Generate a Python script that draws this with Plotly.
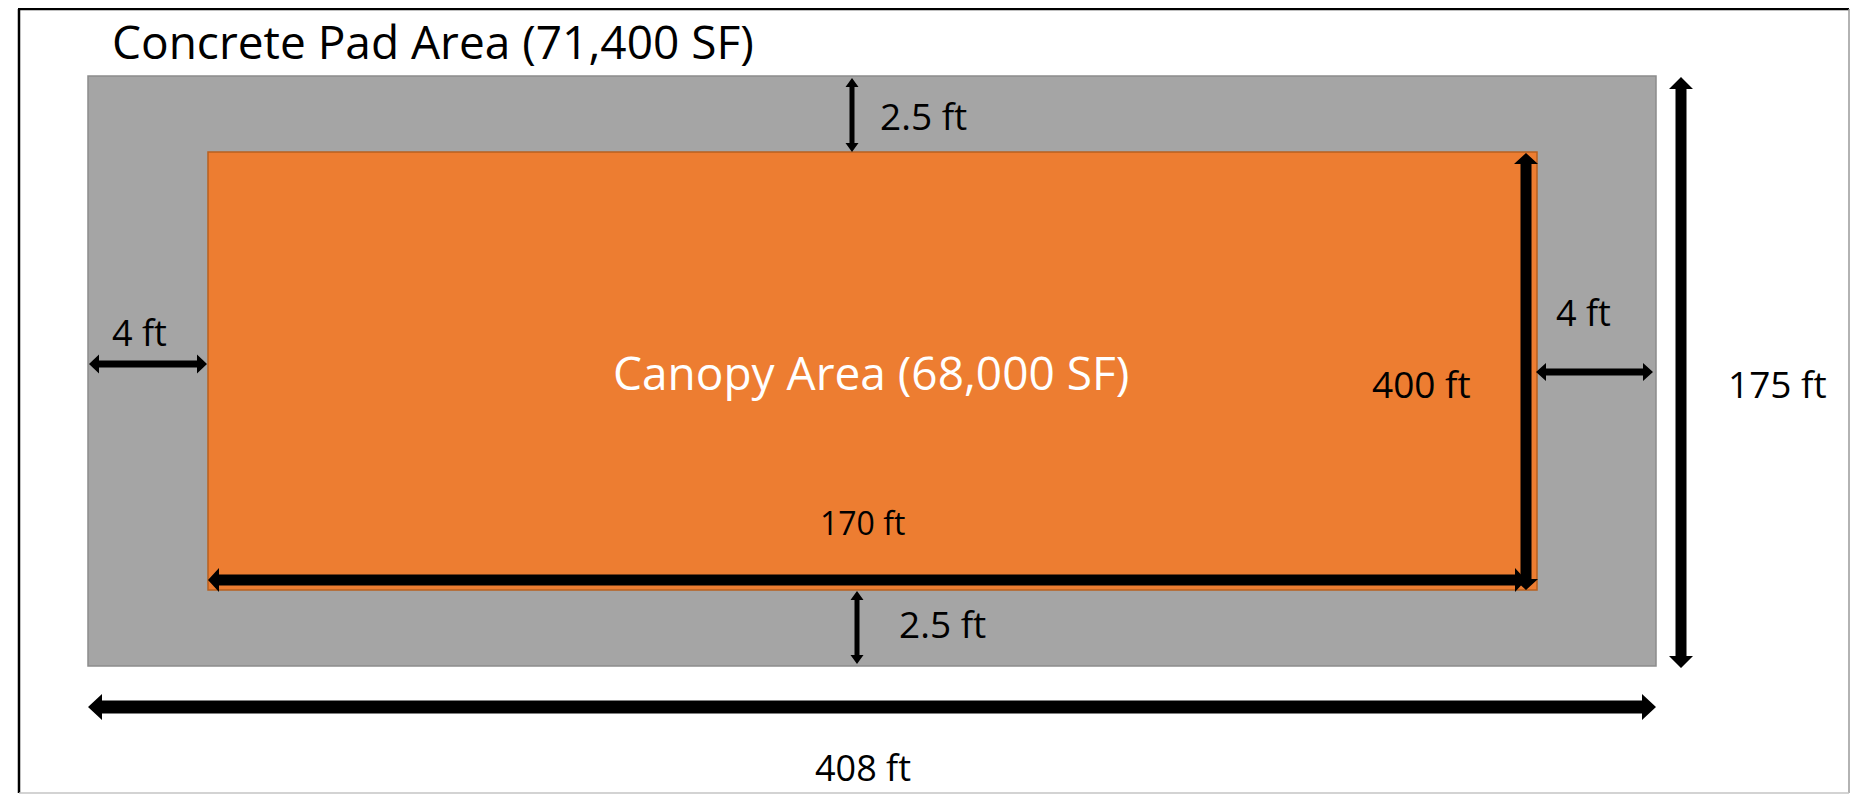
import plotly.graph_objects as go

# ---- data (feet) ----
pad_dims = [408, 175]          # concrete pad: length, width
canopy_dims = [400, 170]       # canopy: length, width
setbacks = [4, 2.5]            # side setback, end setback
unit = "ft"

pad_area = pad_dims[0] * pad_dims[1]
canopy_area = canopy_dims[0] * canopy_dims[1]

# ---- schematic layout (canvas px, not to scale) ----
W, H = 1863, 795
OFF = 8  # page body margin, so canvas units equal page pixels
pad_box = dict(x0=88, y0=76, x1=1656, y1=666)
canopy_box = dict(x0=208, y0=152, x1=1537, y1=590)

GRAY = "#A5A5A5"
ORANGE = "#ED7D31"
FONT = "Open Sans"

fig = go.Figure()
fig.add_trace(go.Scatter(x=[OFF, W], y=[OFF, H], mode="markers",
                         marker=dict(opacity=0), hoverinfo="skip", showlegend=False))

shapes = []
# outer frame
shapes.append(dict(type="line", x0=18, y0=9, x1=1849, y1=9, line=dict(color="black", width=2.5)))
shapes.append(dict(type="line", x0=19, y0=9, x1=19, y1=793, line=dict(color="black", width=2.5)))
shapes.append(dict(type="line", x0=1849, y0=9, x1=1849, y1=793, line=dict(color="#9a9a9a", width=1.5)))
shapes.append(dict(type="line", x0=19, y0=793, x1=1849, y1=793, line=dict(color="#c4c4c4", width=1.5)))

shapes.append(dict(type="rect", **pad_box, fillcolor=GRAY, line=dict(color="#8c8c8c", width=1.5), layer="below"))
shapes.append(dict(type="rect", **canopy_box, fillcolor=ORANGE, line=dict(color="#B8601F", width=1.5), layer="below"))


def arrow_path(x0, y0, x1, y1, sw, hw, hl):
    dx, dy = x1 - x0, y1 - y0
    L = (dx * dx + dy * dy) ** 0.5
    ux, uy = dx / L, dy / L
    nx, ny = -uy, ux
    b0 = (x0 + ux * hl, y0 + uy * hl)
    b1 = (x1 - ux * hl, y1 - uy * hl)
    pts = [
        (x0, y0),
        (b0[0] + nx * hw / 2, b0[1] + ny * hw / 2),
        (b0[0] + nx * sw / 2, b0[1] + ny * sw / 2),
        (b1[0] + nx * sw / 2, b1[1] + ny * sw / 2),
        (b1[0] + nx * hw / 2, b1[1] + ny * hw / 2),
        (x1, y1),
        (b1[0] - nx * hw / 2, b1[1] - ny * hw / 2),
        (b1[0] - nx * sw / 2, b1[1] - ny * sw / 2),
        (b0[0] - nx * sw / 2, b0[1] - ny * sw / 2),
        (b0[0] - nx * hw / 2, b0[1] - ny * hw / 2),
    ]
    return "M " + " L ".join(f"{px:.1f},{py:.1f}" for px, py in pts) + " Z"


arrows = [
    # x0, y0, x1, y1, shaft, head width, head length
    (852, 78, 852, 152, 5, 13, 9),      # top end setback
    (857, 591, 857, 664, 5, 13, 9),     # bottom end setback
    (89, 364, 207, 364, 7, 19, 10),     # left side setback
    (1536, 372, 1653, 372, 7, 18, 10),  # right side setback
    (1526, 153, 1526, 590, 11, 24, 11), # canopy length
    (208, 580, 1526, 580, 11, 24, 11),  # canopy width
    (1681, 77, 1681, 668, 11, 24, 12),  # pad width
    (88, 707, 1656, 707, 13, 26, 14),   # pad length
]
for a in arrows:
    shapes.append(dict(type="path", path=arrow_path(*a), fillcolor="black",
                       line=dict(width=0), layer="above"))


def fmt(v):
    return f"{v:g} {unit}"


labels = [
    # text, x, y, xanchor, size, color
    (f"Concrete Pad Area ({pad_area:,} SF)", 110, 41, "left", 46, "black"),
    (fmt(setbacks[1]), 878, 115, "left", 37, "black"),
    (fmt(setbacks[0]), 110, 332, "left", 36, "black"),
    (fmt(setbacks[0]), 1554, 312, "left", 36, "black"),
    (f"Canopy Area ({canopy_area:,} SF)", 871, 372, "center", 46, "white"),
    (fmt(canopy_dims[0]), 1370, 383, "left", 37, "black"),
    (fmt(canopy_dims[1]), 818, 522, "left", 32, "black"),
    (fmt(setbacks[1]), 897, 623, "left", 37, "black"),
    (fmt(pad_dims[1]), 1726, 383, "left", 37, "black"),
    (fmt(pad_dims[0]), 813, 767, "left", 36, "black"),
]
annotations = []
for t, x, y, xa, s, c in labels:
    annotations.append(dict(text=t, x=x, y=y, xref="x", yref="y", xanchor=xa, yanchor="middle",
                            showarrow=False, font=dict(family=FONT, size=s, color=c)))

fig.update_layout(
    width=W, height=H, margin=dict(l=0, r=0, t=0, b=0),
    paper_bgcolor="white", plot_bgcolor="white",
    xaxis=dict(range=[OFF, W + OFF], visible=False, fixedrange=True),
    yaxis=dict(range=[H + OFF, OFF], visible=False, fixedrange=True),
    shapes=shapes, annotations=annotations, showlegend=False,
)

fig.write_html("out.html", config={"displayModeBar": False})
